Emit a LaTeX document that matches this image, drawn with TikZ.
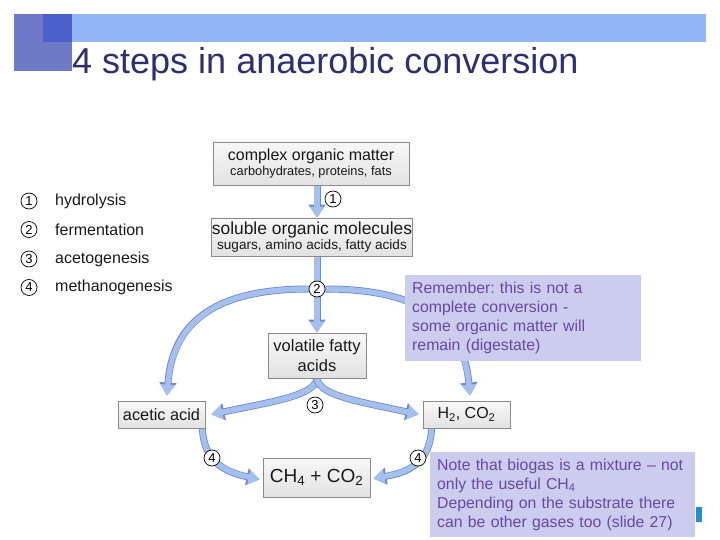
\documentclass[tikz,border=0pt]{standalone}
\usepackage{fontspec}
\setmainfont{Liberation Sans}
\usetikzlibrary{arrows.meta}
\definecolor{barblue}{RGB}{147,182,247}
\definecolor{sqblue}{RGB}{110,122,200}
\definecolor{sqdark}{RGB}{74,96,203}
\definecolor{titlecol}{RGB}{46,46,112}
\definecolor{arrlight}{RGB}{165,191,238}
\definecolor{arrdark}{RGB}{112,138,200}
\definecolor{notefill}{RGB}{204,204,238}
\definecolor{notetext}{RGB}{104,72,165}
\definecolor{boxline}{RGB}{138,138,138}
\definecolor{boxtop}{RGB}{248,248,248}
\definecolor{boxbot}{RGB}{226,226,226}
\definecolor{txt}{RGB}{25,25,25}
\definecolor{iconblue}{RGB}{40,140,210}
\pgfdeclarelayer{bg}
\pgfsetlayers{bg,main}
\begin{document}
\frenchspacing
\begin{tikzpicture}[x=1pt,y=-1pt,
  box/.style={draw=boxline, line width=0.8pt, top color=boxtop, bottom color=boxbot, text=txt, inner sep=0pt, align=center},
  numc/.style={circle, draw=black, fill=white, line width=0.7pt, minimum size=16pt, inner sep=0pt, text=black, font=\fontsize{13}{13}\selectfont},
  flow/.style={draw=arrlight, line width=5.4pt, -{Triangle[width=14pt,length=11pt]},
     preaction={draw=arrdark, line width=7pt, -{Triangle[width=16.5pt,length=13pt]}}},
  note/.style={fill=notefill, text=notetext, align=left, inner xsep=7pt, inner ysep=0pt, font=\fontsize{15.8}{19}\selectfont},
  legend/.style={anchor=west, inner sep=0pt, text=txt, font=\fontsize{16}{18}\selectfont},
]
\useasboundingbox (0,0) rectangle (720,540);

% diagram boxes
\node[box, minimum width=196pt, minimum height=43pt] (b1) at (311,163.5)
  {{\fontsize{16}{17}\selectfont complex organic matter}\\[1pt]{\fontsize{12.8}{14}\selectfont carbohydrates, proteins, fats}};
\node[box, minimum width=200pt, minimum height=38pt] (b2) at (312,237)
  {{\fontsize{17.4}{18}\selectfont soluble organic molecules}\\[0pt]{\fontsize{13.6}{15}\selectfont sugars, amino acids, fatty acids}};
\node[box, minimum width=98pt, minimum height=45pt, font=\fontsize{16.5}{20}\selectfont] (b3) at (317,355.5) {volatile fatty\\acids};
\node[box, minimum width=87pt, minimum height=27pt, font=\fontsize{16.3}{18}\selectfont] (ac) at (161.5,414.5) {acetic acid};
\node[box, minimum width=87pt, minimum height=27pt, font=\fontsize{16}{18}\selectfont] (h2) at (466.5,414.5) {H\textsubscript{2}, CO\textsubscript{2}};
\node[box, minimum width=107pt, minimum height=39pt, font=\fontsize{19}{21}\selectfont] (ch4) at (316.5,477.5) {CH\textsubscript{4} + CO\textsubscript{2}};

% step circles
\node[numc] (c1) at (333,199) {1};
\node[numc] (c2) at (317,289) {2};
\node[numc] (c3) at (315,405) {3};
\node[numc] (c4a) at (212,458) {4};
\node[numc] (c4b) at (418,458) {4};

% legend
\node[numc] (l1) at (29,201) {1};
\node[numc] (l2) at (29,229.5) {2};
\node[numc] (l3) at (29,259) {3};
\node[numc] (l4) at (29,287.5) {4};
\node[legend] (t1) at (55,201) {hydrolysis};
\node[legend] (t2) at (55,229.5) {fermentation};
\node[legend] (t3) at (55,259) {acetogenesis};
\node[legend] (t4) at (55,287.5) {methanogenesis};

% notes
\node[note, anchor=north west, text width=222pt, minimum height=86pt] (n1) at (405,275)
  {Remember: this is not a\\complete conversion -\\some organic matter will\\remain (digestate)};
\node[note, anchor=north west, text width=251pt, minimum height=85pt] (n2) at (430,452)
  {Note that biogas is a mixture -- not\\only the useful CH\textsubscript{4}\\Depending on the substrate there\\can be other gases too (slide 27)};

% title
\node[anchor=base west, inner sep=0pt, text=titlecol, font=\fontsize{36}{40}\selectfont] (title) at (72,74) {4 steps in anaerobic conversion};

\begin{pgfonlayer}{bg}
\fill[white] (0,0) rectangle (720,540);
\fill[sqblue] (14,14) rectangle (72,71);
\fill[barblue] (72,14) rectangle (706,42);
\fill[sqdark] (43,14) rectangle (72,42);
\fill[iconblue] (696,507) rectangle (702,522);

\draw[flow] (b1.south -| b3.north) -- (b2.north -| b3.north);
\draw[flow] (b2.south -| b3.north) -- (b3.north);
\draw[flow] (c2.west) .. controls (205,289) and (172,330) .. ([xshift=5.5pt,yshift=5pt]ac.north);
\draw[flow] (c2.east) .. controls (431,289) and (464,330) .. ([xshift=3.5pt,yshift=5pt]h2.north);
\draw[flow] (b3.south) .. controls (315,396) and (270,402) .. ([xshift=6pt]ac.east);
\draw[flow] (b3.south) .. controls (319,396) and (362,402) .. ([xshift=-4pt]h2.west);
\draw[flow] ([xshift=-3pt]ac.south east) .. controls (204,462) and (225,472) .. ([xshift=-3pt,yshift=-2pt]ch4.west);
\draw[flow] ([xshift=9pt]h2.south west) .. controls (430,462) and (410,472) .. ([xshift=3pt,yshift=-1pt]ch4.east);
\end{pgfonlayer}
\end{tikzpicture}
\end{document}
